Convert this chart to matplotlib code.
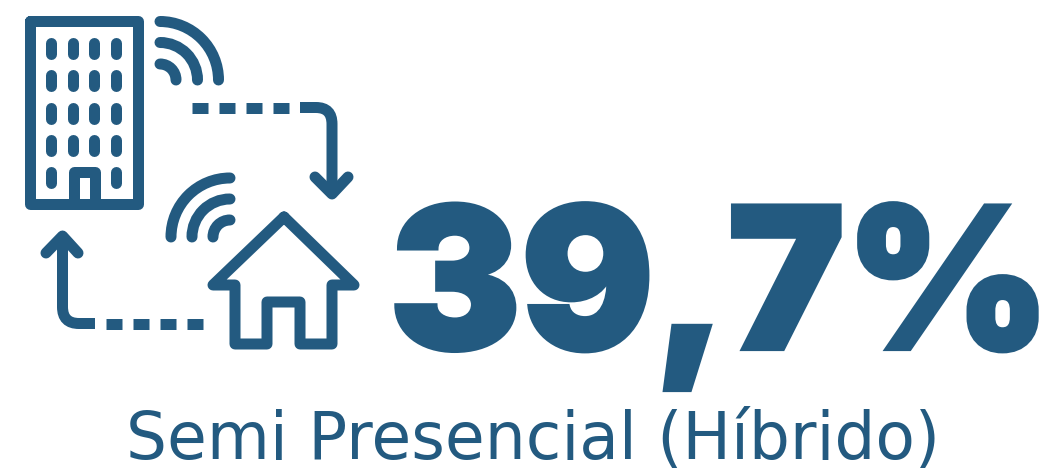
import matplotlib
matplotlib.use('Agg')
import matplotlib.pyplot as plt
import matplotlib.patheffects as pe
from matplotlib.patches import Arc, PathPatch
from matplotlib.path import Path
from matplotlib.lines import Line2D

percent_label = '39,7%'
caption = 'Semi Presencial (Híbrido)'
blue = '#235a80'
stroke = 11 * 0.72  # 11 px in points

fig = plt.figure(figsize=(10.51, 4.71), dpi=100)
ax = fig.add_axes([0, 0, 1, 1])
ax.set_xlim(0, 1051)
ax.set_ylim(471, 0)
ax.axis('off')

def line(xs, ys, cap='round'):
    ax.add_line(Line2D(xs, ys, color=blue, lw=stroke, solid_capstyle=cap,
                       solid_joinstyle='round'))

def arc(x, y, r, t1, t2):
    # y axis is flipped so Arc angles run clockwise on screen
    ax.add_patch(Arc((x, y), 2 * r, 2 * r, theta1=t1, theta2=t2, color=blue,
                     lw=stroke, capstyle='round'))

def dash(x0, x1, y):
    line([x0, x1], [y, y], cap='butt')

def bend(start, before, corner, after, end):
    # one stroke so the curve has no seam with the straight parts
    codes = [Path.MOVETO, Path.LINETO, Path.CURVE3, Path.CURVE3, Path.LINETO]
    ax.add_patch(PathPatch(Path([start, before, corner, after, end], codes),
                           fc='none', ec=blue, lw=stroke, capstyle='butt'))

# building
line([30, 138, 138, 30, 30], [21, 21, 204, 204, 21])
for x in [51, 73, 94, 116]:
    for y in [37, 69, 102, 134, 166]:
        if x in (73, 94) and y == 166:
            continue
        line([x, x], [y + 5.5, y + 16.5])
line([73.5, 73.5, 94.5, 94.5], [204, 171.5, 171.5, 204])

# wifi by the building
for r in [58.5, 37.5, 16]:
    arc(160, 80, r, 270, 360)

# wifi by the house
for r in [59, 38, 17]:
    arc(230, 237, r, 180, 270)

# house
line([284, 213, 235, 235, 267, 267, 300, 300, 332, 332, 354, 284],
     [217, 285, 285, 344, 344, 302, 302, 344, 344, 285, 285, 217])

# top arrow
for x0 in [192, 219, 246, 273]:
    dash(x0, x0 + 16, 107.5)
bend((300, 107.5), (316, 107.5), (332, 107.5), (332, 124), (332, 193))
line([315, 332, 348], [177, 194, 177])

# bottom arrow
for x0 in [187, 160, 133, 106]:
    dash(x0, x0 + 16, 323.5)
bend((95, 323.5), (79, 323.5), (62.5, 323.5), (62.5, 307), (62.5, 238))
line([46, 62.5, 78], [253, 236, 253])

ax.text(720, 349, percent_label, ha='center', va='baseline', color=blue, fontsize=142,
        family='Inter', weight='black',
        path_effects=[pe.withStroke(linewidth=3, foreground=blue, joinstyle='miter')])
ax.text(533, 459, caption, ha='center', va='baseline', color=blue, fontsize=46.5,
        family='DejaVu Sans')

fig.savefig('out.png', dpi=100)
